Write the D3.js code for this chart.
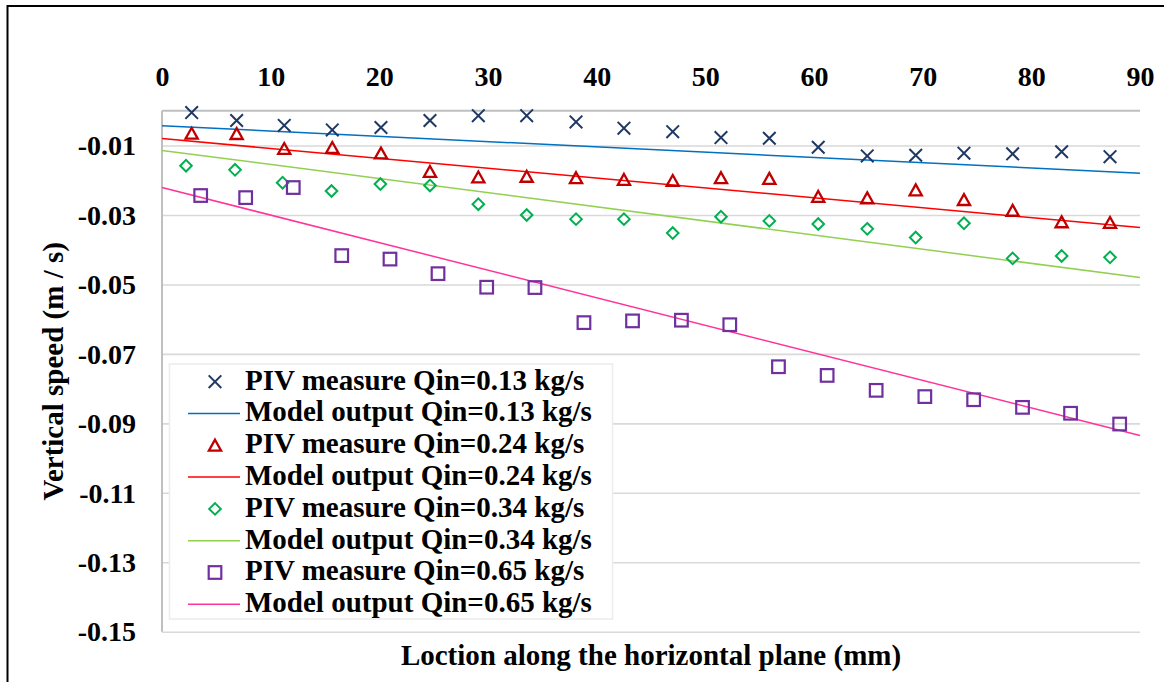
<!DOCTYPE html>
<html>
<head>
<meta charset="utf-8">
<script src="https://cdn.jsdelivr.net/npm/d3@7/dist/d3.min.js"></script>
<style>
  html, body { margin: 0; padding: 0; background: #fff; }
  svg { display: block; }
  text { font-family: "Liberation Serif", "Times New Roman", serif; font-weight: bold; fill: #000; }
</style>
</head>
<body>
<svg id="chart" width="1164" height="682"></svg>
<script>
// ---------- data ----------
const xTicks = [0, 10, 20, 30, 40, 50, 60, 70, 80, 90];
const yTicks = [-0.01, -0.03, -0.05, -0.07, -0.09, -0.11, -0.13, -0.15];

const xPivA = [2.73, 6.87, 11.25, 15.67, 20.15, 24.66, 29.11, 33.56, 38.10, 42.51, 47.0, 51.44, 55.89, 60.39, 64.90, 69.36, 73.80, 78.28, 82.79, 87.24];
const xPivC = [2.21, 6.72, 11.10, 15.60, 20.10, 24.66, 29.11, 33.56, 38.10, 42.51, 47.0, 51.44, 55.89, 60.39, 64.90, 69.36, 73.80, 78.28, 82.79, 87.24];
const xPivD = [3.56, 7.70, 12.08, 16.54, 20.98, 25.40, 29.88, 34.32, 38.83, 43.30, 47.80, 52.25, 56.73, 61.21, 65.72, 70.20, 74.69, 79.19, 83.61, 88.13];

const piv013 = [-0.0005, -0.0028, -0.0042, -0.0055, -0.0048, -0.0028, -0.0014, -0.0014, -0.0032, -0.0050, -0.0060, -0.0077, -0.0079, -0.0105, -0.0130, -0.0128, -0.0122, -0.0124, -0.0118, -0.0132];
const piv024 = [-0.0065, -0.0066, -0.0109, -0.0106, -0.0122, -0.0175, -0.0191, -0.0189, -0.0193, -0.0198, -0.0201, -0.0193, -0.0195, -0.0247, -0.0251, -0.0228, -0.0256, -0.0287, -0.0320, -0.0322];
const piv034 = [-0.0158, -0.0170, -0.0207, -0.0231, -0.0211, -0.0215, -0.0269, -0.0300, -0.0312, -0.0312, -0.0352, -0.0305, -0.0317, -0.0326, -0.0340, -0.0365, -0.0324, -0.0425, -0.0418, -0.0422];
const piv065 = [-0.0244, -0.0250, -0.0221, -0.0417, -0.0427, -0.0469, -0.0508, -0.0509, -0.0610, -0.0605, -0.0603, -0.0616, -0.0737, -0.0762, -0.0805, -0.0823, -0.0832, -0.0854, -0.0871, -0.0902];

const xModel = [0, 90];
const model013 = [-0.0043, -0.0180];
const model024 = [-0.0080, -0.0336];
const model034 = [-0.0114, -0.0480];
const model065 = [-0.0221, -0.0935];

const legendLabels = [
  "PIV measure Qin=0.13 kg/s", "Model output Qin=0.13 kg/s",
  "PIV measure Qin=0.24 kg/s", "Model output Qin=0.24 kg/s",
  "PIV measure Qin=0.34 kg/s", "Model output Qin=0.34 kg/s",
  "PIV measure Qin=0.65 kg/s", "Model output Qin=0.65 kg/s"
];

// ---------- setup ----------
const svg = d3.select("#chart");
const L = 162, R = 1140, T = 110.8, B = 631.7;
const x = d3.scaleLinear().domain([0, 90]).range([L, R]);
const y = d3.scaleLinear().domain([-0.15, 0]).range([B, T]);
const FONT = "Liberation Serif, Times New Roman, serif";

// outer frame
svg.append("path").attr("d", "M7.5,682 V6 H1164").attr("fill", "none").attr("stroke", "#000").attr("stroke-width", 2);

// gridlines
const gridAxis = d3.axisLeft(y).tickValues(yTicks).tickSize(-(R - L)).tickFormat("");
const gg = svg.append("g").attr("transform", `translate(${L},0)`).call(gridAxis);
gg.select(".domain").remove();
gg.selectAll(".tick line").attr("stroke", "#d9d9d9").attr("stroke-width", 1.6);

// y tick labels (ASCII hyphen minus)
const yFmt = d => d.toFixed(2);
const yAxis = d3.axisLeft(y).tickValues(yTicks).tickSize(0).tickPadding(0).tickFormat(yFmt);
const yg = svg.append("g").attr("transform", `translate(136,0)`).call(yAxis);
yg.attr("font-family", FONT).attr("font-size", 28);
yg.select(".domain").remove();
yg.selectAll(".tick text")
  .attr("font-size", 28).attr("font-family", FONT)
  .attr("font-weight", "bold").attr("fill", "#000").attr("dy", "0.33em").attr("x", 0);

// x axis on top
const xAxis = d3.axisTop(x).tickValues(xTicks).tickSize(0).tickPadding(0).tickFormat(d => String(d));
const xg = svg.append("g").attr("transform", `translate(0,${T})`).call(xAxis);
xg.attr("font-family", FONT).attr("font-size", 28);
xg.select(".domain").remove();
xg.selectAll(".tick text")
  .attr("font-size", 28).attr("font-family", FONT)
  .attr("font-weight", "bold").attr("fill", "#000").attr("y", 86 - T).attr("dy", 0);

// axis lines
svg.append("line").attr("x1", L).attr("x2", R).attr("y1", y(0)).attr("y2", y(0)).attr("stroke", "#bfbfbf").attr("stroke-width", 2);
svg.append("line").attr("x1", L).attr("x2", L).attr("y1", T).attr("y2", B).attr("stroke", "#bfbfbf").attr("stroke-width", 2);

// ---------- markers ----------
function drawMarker(g, type, cx, cy) {
  if (type === "x") {
    g.append("path").attr("d", `M${cx-6.3},${cy-6.3}L${cx+6.3},${cy+6.3}M${cx+6.3},${cy-6.3}L${cx-6.3},${cy+6.3}`)
      .attr("stroke", "#1f3864").attr("stroke-width", 2).attr("fill", "none");
  } else if (type === "tri") {
    g.append("path").attr("d", `M${cx},${cy-5.6}L${cx+6.1},${cy+5.3}L${cx-6.1},${cy+5.3}Z`)
      .attr("stroke", "#c00000").attr("stroke-width", 2.3).attr("fill", "none");
  } else if (type === "dia") {
    g.append("path").attr("d", `M${cx},${cy-5.8}L${cx+5.8},${cy}L${cx},${cy+5.8}L${cx-5.8},${cy}Z`)
      .attr("stroke", "#00b050").attr("stroke-width", 2).attr("fill", "none");
  } else if (type === "sq") {
    g.append("rect").attr("x", cx - 6.3).attr("y", cy - 6.3).attr("width", 12.6).attr("height", 12.6)
      .attr("stroke", "#7030a0").attr("stroke-width", 2.2).attr("fill", "none");
  }
}

const lineGen = d3.line().x(d => x(d[0])).y(d => y(d[1]));
const plot = svg.append("g");
const models = [
  { vals: model013, color: "#0070c0" },
  { vals: model024, color: "#ff0000" },
  { vals: model034, color: "#92d050" },
  { vals: model065, color: "#ff3399" }
];
models.forEach(m => {
  plot.append("path").datum(xModel.map((xv, i) => [xv, m.vals[i]]))
    .attr("d", lineGen).attr("fill", "none").attr("stroke", m.color).attr("stroke-width", 1.5);
});

const pivs = [
  { xs: xPivA, vals: piv013, type: "x" },
  { xs: xPivA, vals: piv024, type: "tri" },
  { xs: xPivC, vals: piv034, type: "dia" },
  { xs: xPivD, vals: piv065, type: "sq" }
];
pivs.forEach(p => {
  const g = plot.append("g");
  p.vals.forEach((v, i) => drawMarker(g, p.type, x(p.xs[i]), y(v)));
});

// ---------- legend ----------
const lg = svg.append("g");
lg.append("rect").attr("x", 169.5).attr("y", 364).attr("width", 443).attr("height", 255)
  .attr("fill", "#fff").attr("stroke", "#ececec").attr("stroke-width", 1.5);
const rowY0 = 381.7, rowStep = 31.8;
const legendTypes = ["x", "line", "tri", "line", "dia", "line", "sq", "line"];
const legendColors = [null, "#0070c0", null, "#ff0000", null, "#92d050", null, "#ff3399"];
legendLabels.forEach((lab, i) => {
  const cy = rowY0 + i * rowStep;
  if (legendTypes[i] === "line") {
    lg.append("line").attr("x1", 188).attr("x2", 240).attr("y1", cy).attr("y2", cy)
      .attr("stroke", legendColors[i]).attr("stroke-width", 1.5);
  } else {
    drawMarker(lg, legendTypes[i], 215, cy);
  }
  lg.append("text").attr("x", 245).attr("y", cy + 7.8).attr("font-size", 29).text(lab);
});

// ---------- titles ----------
svg.append("text").attr("x", (L + R) / 2).attr("y", 665).attr("text-anchor", "middle")
  .attr("font-size", 29).text("Loction along the horizontal plane (mm)");
svg.append("text").attr("transform", `translate(63,${(T + B) / 2}) rotate(-90)`).attr("text-anchor", "middle")
  .attr("font-size", 29).text("Vertical speed (m / s)");
</script>
</body>
</html>
